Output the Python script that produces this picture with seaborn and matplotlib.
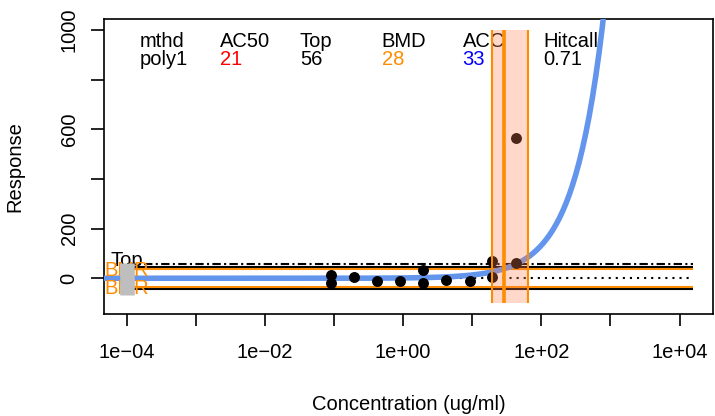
import numpy as np
import pandas as pd
import matplotlib
matplotlib.use("Agg")
import matplotlib.pyplot as plt
import matplotlib.transforms as mtransforms
import seaborn as sns

# ---------------- data ----------------
conc = [0.0906, 0.0906, 0.195, 0.417, 0.891, 1.95, 1.95, 4.17, 9.12, 19.5, 19.5, 42.7, 42.7]
resp = [13, -18, 5, -9, -10, 32, -20, -8, -12, 71, 5, 62, 564]

ctrl_conc = 1e-4
ctrl_low, ctrl_high = -67, 60

slope = 1.33            # poly1 fit: resp = slope * conc
top_val = 56
cutoff = 45
bmr = 37
bmd, bmdl, bmdu = 28.8, 19.4, 63.0
band_low, band_high = -100, 1000
line_start, line_end = 1e-4, 1.55e4

hdr_names = ["mthd", "AC50", "Top", "BMD", "ACC", "Hitcall"]
hdr_values = ["poly1", "21", "56", "28", "33", "0.71"]
hdr_colors = ["black", "red", "black", "#FF8C00", "blue", "black"]

xtick_exp = [-4, -3, -2, -1, 0, 1, 2, 3, 4]
ytick_vals = [0, 200, 400, 600, 800, 1000]
ytick_labels = ["0", "200", "", "600", "", "1000"]

ORANGE = "#FF8C00"

# ---------------- style ----------------
sns.set_theme(style="white")
plt.rcParams["font.family"] = ["Liberation Sans", "DejaVu Sans"]
plt.rcParams["text.color"] = "black"
FS = 14.5

W, H = 715, 416
fig = plt.figure(figsize=(W / 100, H / 100), dpi=100)
L, R, T, B = 104.3, 713.3, 19.3, 314.0
ax = fig.add_axes([L / W, 1 - B / H, (R - L) / W, (B - T) / H])
ax.set_xscale("log")
ax.set_xlim(10 ** -4.325, 10 ** 4.488)
ax.set_ylim(-144, 1044)

# header text (drawn first, underneath)
hdr_x = [139.3, 220, 300, 381.7, 462.7, 543.3]
for xp, n, v, c in zip(hdr_x, hdr_names, hdr_values, hdr_colors):
    ax.text(xp / W, 1 - 47.3 / H, n, transform=fig.transFigure, fontsize=FS,
            color="black", ha="left", va="baseline", zorder=1)
    ax.text(xp / W, 1 - 65.0 / H, v, transform=fig.transFigure, fontsize=FS,
            color=c, ha="left", va="baseline", zorder=1)

# horizontal reference lines
ax.hlines(top_val, line_start, line_end, colors="black", lw=1.5,
          linestyles=[(0, (4, 1.6, 1, 1.6))], zorder=2)
ax.hlines([cutoff, -cutoff], line_start, line_end, colors="black", lw=1.5, zorder=2)
ax.hlines([bmr, -bmr], line_start, line_end, colors=ORANGE, lw=1.5, zorder=2)
ax.hlines(0, line_start, line_end, colors="black", lw=1.5,
          linestyles=[(0, (1, 2.4))], zorder=2)

# fitted curve
xs = np.logspace(-5, 4.5, 400)
curve = pd.DataFrame({"conc": xs, "resp": slope * xs})
sns.lineplot(data=curve, x="conc", y="resp", ax=ax, color="#6495ED", lw=4, zorder=4)

# data points
pts = pd.DataFrame({"conc": conc, "resp": resp})
sns.scatterplot(data=pts, x="conc", y="resp", ax=ax, color="black", s=62,
                linewidth=0, zorder=5)

# control distribution
ax.vlines(ctrl_conc, ctrl_low, ctrl_high, colors="#BEBEBE", lw=10.5, zorder=6)

# labels on lines
off = mtransforms.offset_copy(ax.transData, fig=fig, x=0, y=-2, units="dots")
ax.text(ctrl_conc, top_val, "Top", transform=off, fontsize=FS, ha="center",
        va="baseline", color="black", zorder=5)
off2 = mtransforms.offset_copy(ax.transData, fig=fig, x=0, y=-7, units="dots")
for v in (bmr, -bmr):
    ax.text(ctrl_conc, v, "BMR", transform=off2, fontsize=FS, ha="center",
            va="baseline", color=ORANGE, zorder=5)

# BMD band
ax.fill_between([bmdl, bmdu], band_low, band_high, color="#FF7F50", alpha=0.3,
                lw=0, zorder=7)
ax.vlines([bmdl, bmdu], band_low, band_high, colors=ORANGE, lw=1.5, zorder=8)
ax.vlines(bmd, band_low, band_high, colors=ORANGE, lw=2.6, zorder=8)

# axes
ax.set_xticks([10.0 ** e for e in xtick_exp])
ax.set_xticklabels([("1e%s%02d" % ("\u2212" if e < 0 else "+", abs(e))) if e % 2 == 0 else ""
                    for e in xtick_exp])
ax.xaxis.set_minor_locator(matplotlib.ticker.NullLocator())
ax.set_yticks(ytick_vals)
ax.set_yticklabels(ytick_labels, rotation=90, va="center")
ax.tick_params(axis="x", direction="out", length=8.6, width=1.2, pad=12,
               labelsize=FS, colors="black", bottom=True)
ax.tick_params(axis="y", direction="out", length=9.5, width=1.2, pad=9,
               labelsize=FS, colors="black", left=True)
for s in ax.spines.values():
    s.set_color("black")
    s.set_linewidth(1.2)
ax.set_xlabel("")
ax.set_ylabel("")

fig.text((L + R) / 2 / W, 1 - 405 / H, "Concentration (ug/ml)", fontsize=FS,
         ha="center", va="center", color="black")
fig.text(15 / W, 1 - (T + B) / 2 / H, "Response", fontsize=FS, rotation=90,
         ha="center", va="center", color="black")

fig.savefig("out.png", dpi=100)
